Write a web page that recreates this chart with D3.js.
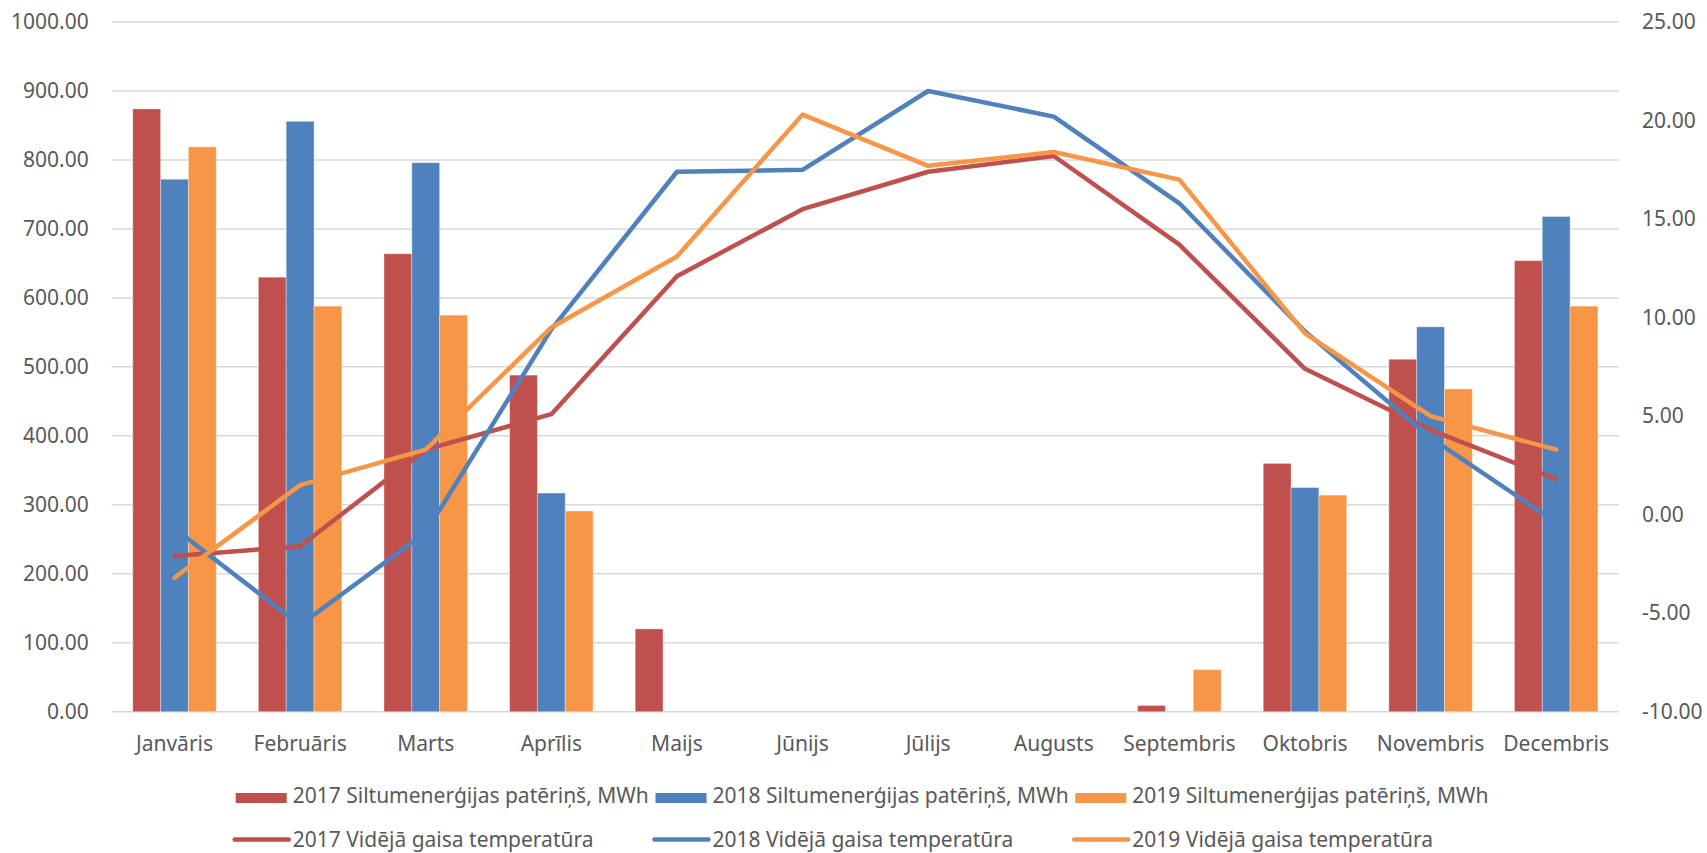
<!DOCTYPE html>
<html>
<head>
<meta charset="utf-8">
<script src="https://cdn.jsdelivr.net/npm/d3@7"></script>
<style>
    body { margin: 0; background: #fff; }
    svg text { font-family: "Noto Sans", "Open Sans", sans-serif; fill: #595959; }
</style>
</head>
<body>
<script>

//DATA
var months = ["Janvāris", "Februāris", "Marts", "Aprīlis", "Maijs", "Jūnijs",
    "Jūlijs", "Augusts", "Septembris", "Oktobris", "Novembris", "Decembris"];

var heat2017 = [874, 630, 664, 488, 120, 0, 0, 0, 9, 360, 511, 654];
var heat2018 = [772, 856, 796, 317, 0, 0, 0, 0, 0, 325, 558, 718];
var heat2019 = [819, 588, 575, 291, 0, 0, 0, 0, 61, 314, 468, 588];

var temp2017 = [-2.1, -1.6, 3.3, 5.1, 12.1, 15.5, 17.4, 18.2, 13.7, 7.4, 4.3, 1.8];
var temp2018 = [-0.7, -5.6, -0.9, 9.4, 17.4, 17.5, 21.5, 20.2, 15.8, 9.3, 3.9, -0.4];
var temp2019 = [-3.2, 1.5, 3.3, 9.5, 13.1, 20.3, 17.7, 18.4, 17.0, 9.2, 5.0, 3.3];

var leftTicks = [0, 100, 200, 300, 400, 500, 600, 700, 800, 900, 1000];
var rightTicks = [-10, -5, 0, 5, 10, 15, 20, 25];

var barSeries = [
    { name: "2017 Siltumenerģijas patēriņš, MWh", values: heat2017, color: "#C0504D" },
    { name: "2018 Siltumenerģijas patēriņš, MWh", values: heat2018, color: "#4F81BD" },
    { name: "2019 Siltumenerģijas patēriņš, MWh", values: heat2019, color: "#F79646" }
];
var lineSeries = [
    { name: "2017 Vidējā gaisa temperatūra", values: temp2017, color: "#C0504D" },
    { name: "2018 Vidējā gaisa temperatūra", values: temp2018, color: "#4F81BD" },
    { name: "2019 Vidējā gaisa temperatūra", values: temp2019, color: "#F79646" }
];

//Size and plot area
var w = 1707;
var h = 853;
var plot = { left: 111.7, right: 1619, top: 22, bottom: 711.7 };

//Scales
var x = d3.scaleBand()
    .domain(months)
    .range([plot.left, plot.right])
    .padding(0);

var yLeft = d3.scaleLinear()
    .domain([0, 1000])
    .range([plot.bottom, plot.top]);

var yRight = d3.scaleLinear()
    .domain([-10, 25])
    .range([plot.bottom, plot.top]);

var barWidth = x.bandwidth() * 0.2215;

//plain hyphen for negatives, like the original
var fmt = d3.formatLocale({ decimal: ".", thousands: ",", grouping: [3], currency: ["", ""], minus: "-" }).format(".2f");

var svg = d3.select("body").append("svg")
    .attr("width", w)
    .attr("height", h);

//Gridlines
svg.append("g")
    .selectAll("line")
    .data(leftTicks)
    .enter()
        .append("line")
        .attr("x1", plot.left)
        .attr("x2", plot.right)
        .attr("y1", function(d) { return yLeft(d); })
        .attr("y2", function(d) { return yLeft(d); })
        .style("stroke", "#D9D9D9")
        .style("stroke-width", 1.5);

//Left axis
var leftAxis = svg.append("g")
    .attr("transform", "translate(" + (plot.left - 23) + ",0)")
    .call(d3.axisLeft(yLeft).tickValues(leftTicks).tickFormat(fmt).tickSize(0).tickPadding(0));

//Right axis
var rightAxis = svg.append("g")
    .attr("transform", "translate(" + (plot.right + 23) + ",0)")
    .call(d3.axisRight(yRight).tickValues(rightTicks).tickFormat(fmt).tickSize(0).tickPadding(0));

//Bottom axis labels
var bottomAxis = svg.append("g")
    .attr("transform", "translate(0," + plot.bottom + ")")
    .call(d3.axisBottom(x).tickSize(0).tickPadding(0));

[leftAxis, rightAxis, bottomAxis].forEach(function(a) {
    a.select(".domain").remove();
    a.selectAll("text")
        .style("font-size", "21px")
        .style("fill", "#595959")
        .style("font-family", "'Noto Sans', sans-serif");
});
bottomAxis.selectAll("text").attr("dy", null).attr("y", 39);

//Bars
barSeries.forEach(function(s, k) {
    svg.append("g")
        .selectAll("rect")
        .data(s.values)
        .enter()
            .append("rect")
            .attr("x", function(d, i) {
                return x(months[i]) + x.bandwidth() / 2 - 1.5 * barWidth + k * barWidth;
            })
            .attr("y", function(d) { return yLeft(d); })
            .attr("width", barWidth)
            .attr("height", function(d) { return yLeft(0) - yLeft(d); })
            .style("fill", s.color)
            .style("stroke", "#fff")
            .style("stroke-opacity", 0.35)
            .style("stroke-width", 1);
});

//Temperature lines
var line = d3.line()
    .x(function(d, i) { return x(months[i]) + x.bandwidth() / 2; })
    .y(function(d) { return yRight(d); });

lineSeries.forEach(function(s) {
    svg.append("path")
        .datum(s.values)
        .attr("d", line)
        .style("fill", "none")
        .style("stroke", s.color)
        .style("stroke-width", 4.5)
        .style("stroke-linejoin", "round")
        .style("stroke-linecap", "round");
});

//Legend
var legendX = [235.7, 655.5, 1075.3];

var legend = svg.append("g");

barSeries.forEach(function(s, k) {
    legend.append("rect")
        .attr("x", legendX[k])
        .attr("y", 793)
        .attr("width", 51)
        .attr("height", 10)
        .style("fill", s.color);
    legend.append("text")
        .attr("x", legendX[k] + 57)
        .attr("y", 802.6)
        .style("font-size", "21px")
        .text(s.name);
});

lineSeries.forEach(function(s, k) {
    legend.append("line")
        .attr("x1", legendX[k] - 1)
        .attr("x2", legendX[k] + 53)
        .attr("y1", 839.5)
        .attr("y2", 839.5)
        .style("stroke", s.color)
        .style("stroke-width", 4.5)
        .style("stroke-linecap", "round");
    legend.append("text")
        .attr("x", legendX[k] + 57)
        .attr("y", 847)
        .style("font-size", "21px")
        .text(s.name);
});

</script>
</body>
</html>
